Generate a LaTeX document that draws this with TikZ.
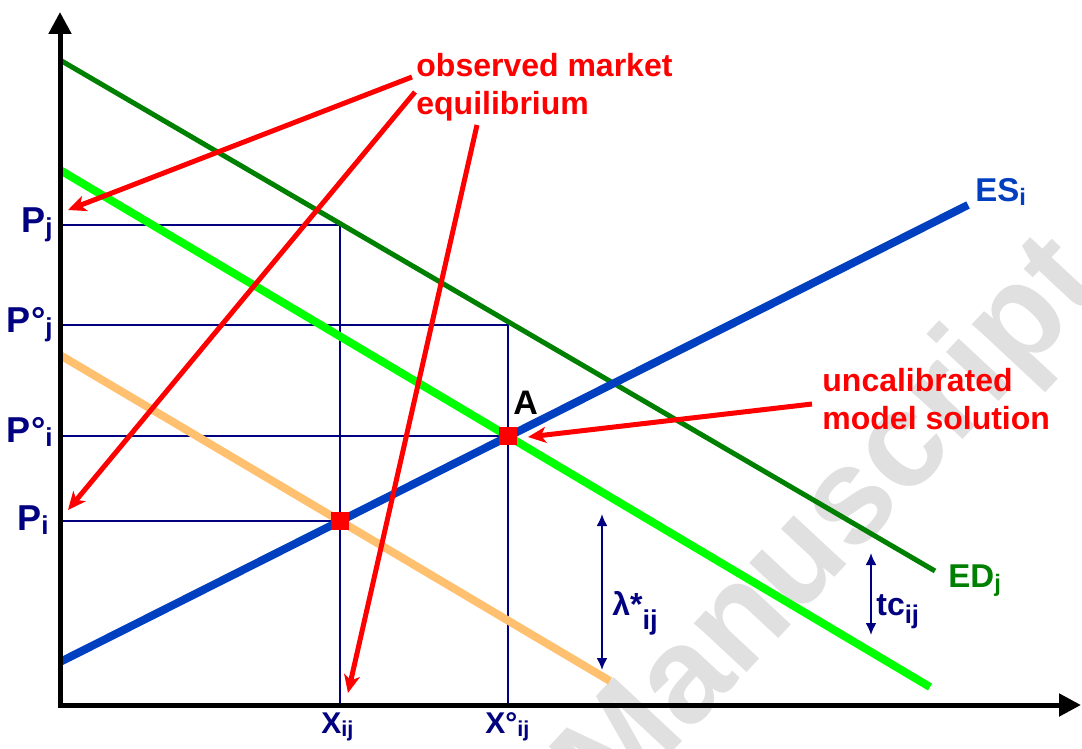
\documentclass[tikz,border=0pt]{standalone}
\usepackage{fontspec}
\setmainfont{Liberation Sans}
\usetikzlibrary{arrows.meta}
\definecolor{navyln}{RGB}{0,0,128}
\definecolor{esblue}{RGB}{0,64,192}
\definecolor{eddark}{RGB}{0,128,0}
\definecolor{edlight}{RGB}{0,255,0}
\definecolor{orangeln}{RGB}{255,192,112}
\definecolor{wmgray}{RGB}{224,224,224}
\newcommand{\lsub}[2][-0.13em]{\raisebox{#1}{\scalebox{0.72}{#2}}}

\begin{document}
\begin{tikzpicture}[x=0.5pt,y=-0.5pt,
    axis/.style={line width=2.5pt,{Triangle[length=11pt,width=11pt]}-{Triangle[length=11pt,width=11pt]}},
    guide/.style={navyln,line width=1pt},
    curve/.style={line width=4pt},
    callout/.style={red,line width=2.5pt,-{Stealth[length=9pt,width=8pt,inset=2.5pt]}},
    gap/.style={navyln,line width=1pt,{Latex[length=6pt,width=5.5pt]}-{Latex[length=6pt,width=5.5pt]}},
    eqpt/.style={fill=red,minimum size=9pt,inner sep=0pt},
    plabel/.style={navyln,font=\fontsize{18pt}{18pt}\selectfont\bfseries,inner sep=0pt},
    xlabel/.style={navyln,font=\fontsize{15pt}{15pt}\selectfont\bfseries,inner sep=0pt},
    glabel/.style={navyln,font=\fontsize{16pt}{16pt}\selectfont\bfseries,inner sep=0pt},
    note/.style={red,font=\fontsize{16pt}{19pt}\selectfont\bfseries,align=left,inner sep=0pt}
]
\useasboundingbox (0,0) rectangle (1082,749);

% watermark
\begin{scope}
\clip (0,0) rectangle (1082,749);
\node[rotate=47,text=wmgray,font=\fontsize{68pt}{68pt}\selectfont\bfseries] (wm) at (833,528) {Manuscript};
\end{scope}

% axes and price / quantity levels
\coordinate (O)    at (60,705);
\coordinate (ytop) at (60,12);
\coordinate (xend) at (1081,705);
\coordinate (pj)   at (60,225);
\coordinate (poj)  at (60,325);
\coordinate (poi)  at (60,436);
\coordinate (pi)   at (60,521);
\coordinate (xij)  at (340,705);
\coordinate (xoij) at (508,705);
\coordinate (Bj)   at (340,225);
\coordinate (Boj)  at (508,325);

\draw[guide] (pj) -- (Bj) -- (xij);
\draw[guide] (poj) -- (Boj) -- (xoij);
\draw[guide] (poi) -- (508,436);
\draw[guide] (pi) -- (340,521);

% curves
\coordinate (ED0) at (60,60);   \coordinate (ED1) at (935,571);
\coordinate (EL0) at (60,170);  \coordinate (EL1) at (930,687);
\coordinate (OR0) at (60,355);  \coordinate (OR1) at (610,681);
\coordinate (ES0) at (60,662);  \coordinate (ES1) at (968,205);

\draw[curve,orangeln] (OR0) -- (OR1);
\draw[curve,edlight] (EL0) -- (EL1);
\draw[eddark,line width=2.5pt] (ED0) -- (ED1);
\draw[curve,esblue] (ES0) -- (ES1);

\draw[axis] (ytop) -- (O) -- (xend);

% equilibrium points
\node[eqpt] (A)  at (508,436) {};
\node[eqpt] (B)  at (340,521) {};
\node[font=\fontsize{17pt}{17pt}\selectfont\bfseries,inner sep=0pt,anchor=base west] (Alab) at (513,414) {A};

% axis labels
\node[plabel,anchor=base east] (Pj)  at (53,232) {P\lsub{j}};
\node[plabel,anchor=base east] (Poj) at (53,332) {P°\lsub{j}};
\node[plabel,anchor=base east] (Poi) at (53,442) {P°\lsub{i}};
\node[plabel,anchor=base east] (Pi)  at (49,530) {P\lsub{i}};
\node[xlabel,anchor=base west] (Xij)  at (321,733) {X\lsub{ij}};
\node[xlabel,anchor=base west] (Xoij) at (485,733) {X°\lsub{ij}};

% curve labels
\node[anchor=base west,inner sep=0pt,text=esblue,font=\fontsize{16.5pt}{16.5pt}\selectfont\bfseries] (ESlab) at (975,201) {ES\lsub{i}};
\node[anchor=base west,inner sep=0pt,text=eddark,font=\fontsize{16.5pt}{16.5pt}\selectfont\bfseries] (EDlab) at (948,587) {ED\lsub{j}};

% gaps
\coordinate (lam0) at (602,514); \coordinate (lam1) at (602,670);
\coordinate (tc0)  at (871,553); \coordinate (tc1)  at (871,635);
\draw[gap] (lam0) -- (lam1);
\draw[gap] (tc0) -- (tc1);
\node[glabel,anchor=base west] (lamlab) at (612,615) {λ*\raisebox{-0.45em}{\scalebox{0.85}{ij}}};
\node[glabel,anchor=base west] (tclab)  at (876,615) {tc\raisebox{-0.28em}{\scalebox{0.8}{ij}}};

% callouts
\node[note,anchor=base west] (obs) at (416,115) {observed market\\equilibrium};
\node[note,anchor=base west] (unc) at (822,429) {uncalibrated\\model solution};

\coordinate (obsA) at (412,77);
\coordinate (obsB) at (415,92);
\coordinate (obsC) at (477,125);
\coordinate (uncA) at (812,404);
\coordinate (hPj)  at (68,210);
\coordinate (hPi)  at (68,510);
\coordinate (hX)   at (348,693);
\coordinate (hA)   at (528,437);

\draw[callout] (obsA) -- (hPj);
\draw[callout] (obsB) -- (hPi);
\draw[callout] (obsC) -- (hX);
\draw[callout] (uncA) -- (hA);
\end{tikzpicture}
\end{document}
